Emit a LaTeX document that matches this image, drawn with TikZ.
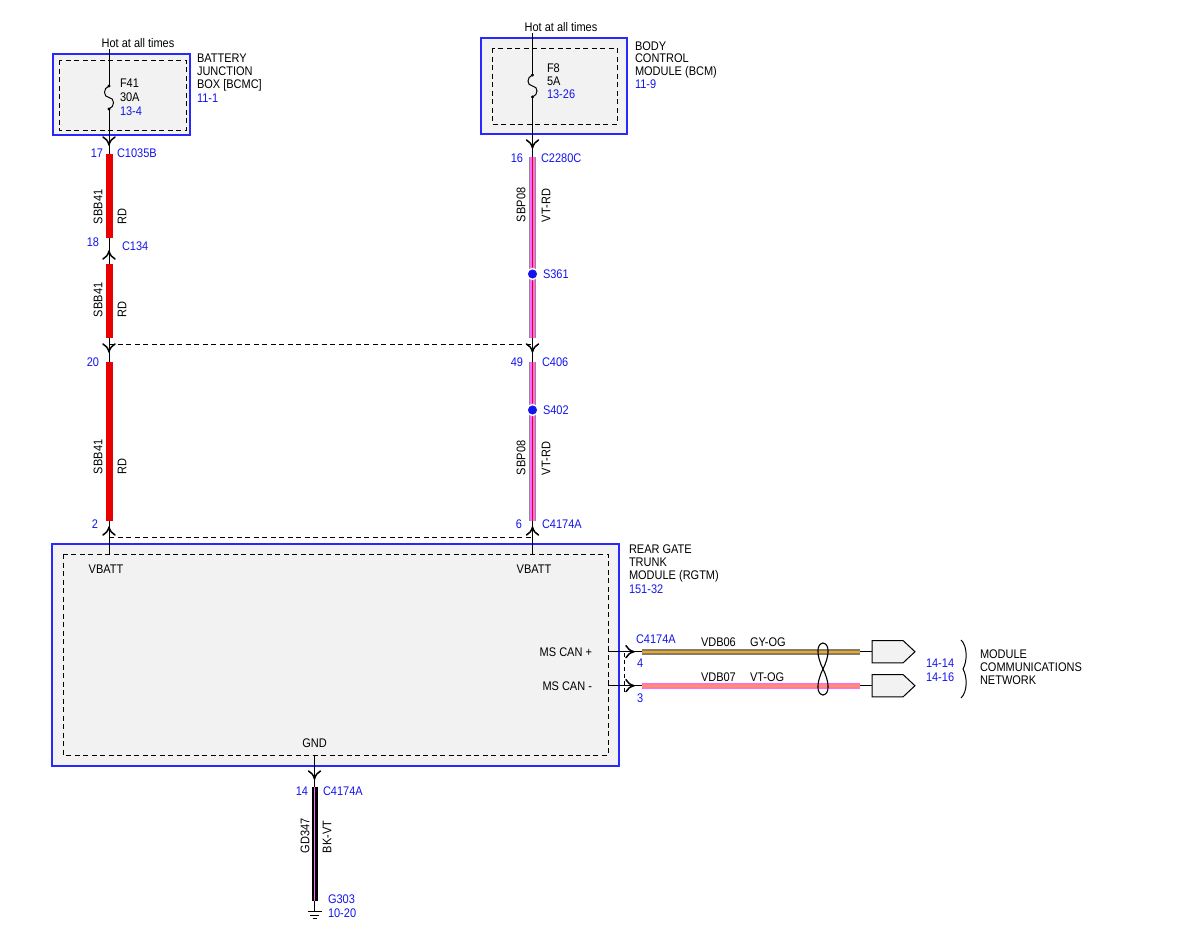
\documentclass[tikz,border=0pt]{standalone}
\usepackage{fontspec}
\setmainfont{Liberation Sans}[FakeStretch=0.88]
\definecolor{cblue}{RGB}{20,20,235}
\definecolor{boxblue}{RGB}{40,40,255}
\definecolor{boxfill}{RGB}{242,242,242}
\definecolor{wred}{RGB}{235,0,0}
\definecolor{wpink}{RGB}{255,105,255}
\definecolor{wgray}{RGB}{125,125,125}
\definecolor{worange}{RGB}{255,165,0}
\begin{document}
\begin{tikzpicture}[x=1pt,y=-1pt,
  every node/.style={inner sep=0pt,outer sep=0pt,font=\fontsize{12.5}{13.3}\selectfont},
  txt/.style={anchor=base west},
  txte/.style={anchor=base east},
  txtc/.style={anchor=base},
  bl/.style={text=cblue},
  rot/.style={rotate=90,anchor=west},
  ml/.style={anchor=north west,align=left},
  module/.style={draw=boxblue,line width=1.4,fill=boxfill},
  inbox/.style={draw=black,line width=0.9,dash pattern=on 5pt off 3.5pt},
  dline/.style={draw=black,line width=0.9,dash pattern=on 5pt off 3.5pt},
  thinw/.style={draw=black,line width=1},
  redw/.style={draw=wred,line width=7},
  pinkedge/.style={draw=black!45,line width=7},
  pinkw/.style={draw=wpink,line width=5.4},
  redstripe/.style={draw=wred,line width=1.8},
  grayw/.style={draw=wgray,line width=6},
  orangestripe/.style={draw=worange,line width=1.8},
  blackw/.style={draw=black,line width=6},
  pinkstripe/.style={draw=wpink,line width=1},
  cn/.pic={\draw[line width=1.5,line cap=round,line join=round] (-6,-7) .. controls (-3,-5.5) and (-1,-3) .. (0,1) .. controls (1,-3) and (3,-5.5) .. (6,-7);},
  splice/.style={circle,fill=cblue,minimum size=11pt,draw=white,line width=1.5}
]
\useasboundingbox (0,0) rectangle (1200,927);

% ---------- boxes ----------
\draw[module] (53,54) rectangle (190,135);
\draw[inbox] (59,60) rectangle (186,130);
\draw[module] (481,38) rectangle (627,134);
\draw[inbox] (492,48) rectangle (617,124);
\draw[module] (52,544) rectangle (619,766);
\draw[inbox] (63,554) rectangle (608,755);

% ---------- left circuit (x=109) ----------
\coordinate (Ltop) at (109,49);
\coordinate (Lfa) at (109,86);
\coordinate (Lfb) at (109,109);
\coordinate (Lbot) at (109,554);
\draw[thinw] (Ltop) -- (Lfa);
\draw[thinw] (Lfa) .. controls (103,88) and (103,97) .. (109,97.5) .. controls (115,98) and (115,107) .. (Lfb);
\fill (Lfa) circle (1.6) (Lfb) circle (1.6);
\draw[thinw] (Lfb) -- (Lbot);
\coordinate (La1) at (109,154); \coordinate (La2) at (109,238);
\coordinate (Lb1) at (109,264); \coordinate (Lb2) at (109,338);
\coordinate (Lc1) at (109,362); \coordinate (Lc2) at (109,521);
\draw[redw] (La1) -- (La2);
\draw[redw] (Lb1) -- (Lb2);
\draw[redw] (Lc1) -- (Lc2);

% ---------- right circuit (x=532.5) ----------
\coordinate (Rtop) at (532.5,33);
\coordinate (Rfa) at (532.5,75);
\coordinate (Rfb) at (532.5,97);
\coordinate (Rbot) at (532.5,554);
\draw[thinw] (Rtop) -- (Rfa);
\draw[thinw] (Rfa) .. controls (526.5,77) and (526.5,85.5) .. (532.5,86) .. controls (538.5,86.5) and (538.5,95) .. (Rfb);
\fill (Rfa) circle (1.6) (Rfb) circle (1.6);
\draw[thinw] (Rfb) -- (Rbot);
\coordinate (Ra1) at (532.5,157); \coordinate (Ra2) at (532.5,338);
\coordinate (Rb1) at (532.5,362); \coordinate (Rb2) at (532.5,521);
\foreach \a/\b in {Ra1/Ra2,Rb1/Rb2}{
  \draw[pinkedge] (\a) -- (\b);
  \draw[pinkw] (\a) -- (\b);
  \draw[redstripe] (\a) -- (\b);
}
\node[splice] (S361) at (532.5,274) {};
\node[splice] (S402) at (532.5,410) {};
\node[txt,bl] (S361l) at (543,278.6) {S361};
\node[txt,bl] (S402l) at (543,414.6) {S402};

% ---------- dashed connector links ----------
\coordinate (D1a) at (109,344); \coordinate (D1b) at (532.5,344);
\coordinate (D2a) at (109,537); \coordinate (D2b) at (532.5,537);
\draw[dline] (D1a) -- (D1b);
\draw[dline] (D2a) -- (D2b);

% ---------- connector symbols ----------
\pic at (109,144) {cn};
\pic[rotate=180] at (109,252) {cn};
\pic at (109,351) {cn};
\pic[rotate=180] at (109,528) {cn};
\pic at (532.5,147) {cn};
\pic at (532.5,351) {cn};
\pic[rotate=180] at (532.5,528) {cn};
\pic at (314.5,778) {cn};
\pic[rotate=90] at (633,651.7) {cn};
\pic[rotate=90] at (633,685.7) {cn};

% ---------- top texts ----------
\node[txtc] (hot1) at (138,47.6) {Hot at all times};
\node[txtc] (hot2) at (561,31.6) {Hot at all times};
\node[ml] (bjb) at (197,53.5) {BATTERY\\JUNCTION\\BOX [BCMC]\\{\color{cblue}11-1}};
\node[ml,font=\fontsize{12.5}{14.3}\selectfont] (f41) at (120,78.5) {F41\\30A\\{\color{cblue}13-4}};
\node[ml,font=\fontsize{12.5}{12.6}\selectfont] (bcm) at (635,41.5) {BODY\\CONTROL\\MODULE (BCM)\\{\color{cblue}11-9}};
\node[ml,font=\fontsize{12.5}{13}\selectfont] (f8) at (547,63.5) {F8\\5A\\{\color{cblue}13-26}};

% ---------- pin / connector labels ----------
\node[txte,bl] (p17) at (103,157.2) {17};
\node[txt,bl] (c1035) at (117,157.2) {C1035B};
\node[txte,bl] (p18) at (99,246.2) {18};
\node[txt,bl] (c134) at (122,250.6) {C134};
\node[txte,bl] (p20) at (99,366.6) {20};
\node[txte,bl] (p49) at (523,366.6) {49};
\node[txt,bl] (c406) at (542,366.6) {C406};
\node[txte,bl] (p2) at (98,528.4) {2};
\node[txte,bl] (p6) at (522,528.4) {6};
\node[txt,bl] (c4174a) at (542,528.4) {C4174A};
\node[txte,bl] (p16) at (523,162.6) {16};
\node[txt,bl] (c2280) at (541,162.6) {C2280C};

% ---------- wire labels ----------
\node[rot] (w1a) at (98,224) {SBB41};
\node[rot] (w1b) at (122,224) {RD};
\node[rot] (w2a) at (98,317) {SBB41};
\node[rot] (w2b) at (122,317) {RD};
\node[rot] (w3a) at (98,474) {SBB41};
\node[rot] (w3b) at (122,474) {RD};
\node[rot] (w4a) at (521,222) {SBP08};
\node[rot] (w4b) at (546,222) {VT-RD};
\node[rot] (w5a) at (521,475) {SBP08};
\node[rot] (w5b) at (546,475) {VT-RD};

% ---------- RGTM ----------
\node[txtc] (vb1) at (106,573.6) {VBATT};
\node[txtc] (vb2) at (534,573.6) {VBATT};
\node[ml] (rgtm) at (629,544.5) {REAR GATE\\TRUNK\\MODULE (RGTM)\\{\color{cblue}151-32}};
\node[txte] (canp) at (592,656.3) {MS CAN +};
\node[txte] (canm) at (592,690.3) {MS CAN -};
\node[txtc] (gnd) at (314.5,747.6) {GND};

% ---------- CAN wires ----------
\coordinate (Cp0) at (608,651.7); \coordinate (Cp1) at (642,651.7);
\coordinate (Cp2) at (860,651.7); \coordinate (Cp3) at (872,651.7);
\coordinate (Cm0) at (608,685.7); \coordinate (Cm1) at (642,685.7);
\coordinate (Cm2) at (860,685.7); \coordinate (Cm3) at (872,685.7);
\draw[thinw] (Cp0) -- (Cp1);
\draw[thinw] (Cm0) -- (Cm1);
\draw[grayw] (Cp1) -- (Cp2);
\draw[orangestripe] (Cp1) -- (Cp2);
\draw[pinkw,line width=6] (Cm1) -- (Cm2);
\draw[orangestripe] (Cm1) -- (Cm2);
\draw[thinw] (Cp2) -- (Cp3);
\draw[thinw] (Cm2) -- (Cm3);
\coordinate (Dc1) at (624,653); \coordinate (Dc2) at (624,692);
\draw[dline,dash pattern=on 4pt off 3pt] (Dc1) -- (Dc2);
\draw[line width=1,fill=boxfill] (872,640.5) -- (903,640.5) -- (915,651.7) -- (903,662.9) -- (872,662.9) -- cycle;
\draw[line width=1,fill=boxfill] (872,674.5) -- (903,674.5) -- (915,685.7) -- (903,696.9) -- (872,696.9) -- cycle;
% twist
\draw[line width=1.1] (823,643) .. controls (816,644) and (816.5,656) .. (823,669) .. controls (829.5,682) and (830,694) .. (823,695);
\draw[line width=1.1] (823,643) .. controls (830,644) and (829.5,656) .. (823,669) .. controls (816.5,682) and (816,694) .. (823,695);
\node[txt,bl] (cc) at (636,643.6) {C4174A};
\node[txt,bl] (p4) at (637,667.6) {4};
\node[txt,bl] (p3) at (637,702.6) {3};
\node[txt] (vdb06) at (701,646.6) {VDB06};
\node[txt] (gyog) at (750,646.6) {GY-OG};
\node[txt] (vdb07) at (701,681.6) {VDB07};
\node[txt] (vtog) at (750,681.6) {VT-OG};
\node[ml,font=\fontsize{12.5}{14.6}\selectfont,text=cblue] (ref14) at (926,658.4) {14-14\\14-16};
\draw[line width=1] (961,640) .. controls (967.5,646) and (967.5,661) .. (963,669) .. controls (967.5,677) and (967.5,692) .. (961,698);
\node[ml] (mcn) at (980,649.5) {MODULE\\COMMUNICATIONS\\NETWORK};

% ---------- ground ----------
\coordinate (Gt) at (314.5,766);
\coordinate (G1) at (314.5,787);
\coordinate (G2) at (314.5,901);
\coordinate (Gb) at (314.5,911.5);
\draw[thinw] (314.5,755) -- (G1);
\draw[blackw] (G1) -- (G2);
\draw[pinkstripe] (G1) -- (G2);
\draw[thinw] (G2) -- (Gb);
\draw[line width=1] (307.5,911.5) -- (321.5,911.5);
\draw[line width=1] (310,915) -- (319,915);
\draw[line width=1] (312.5,918.5) -- (316.5,918.5);
\node[txte,bl] (p14) at (308,795.6) {14};
\node[txt,bl] (cg) at (323,795.6) {C4174A};
\node[rot] (gd) at (305,853) {GD347};
\node[rot] (bkvt) at (327,853) {BK-VT};
\node[txt,bl] (g303) at (328,903.6) {G303};
\node[txt,bl] (g1020) at (328,917.6) {10-20};
\end{tikzpicture}
\end{document}
